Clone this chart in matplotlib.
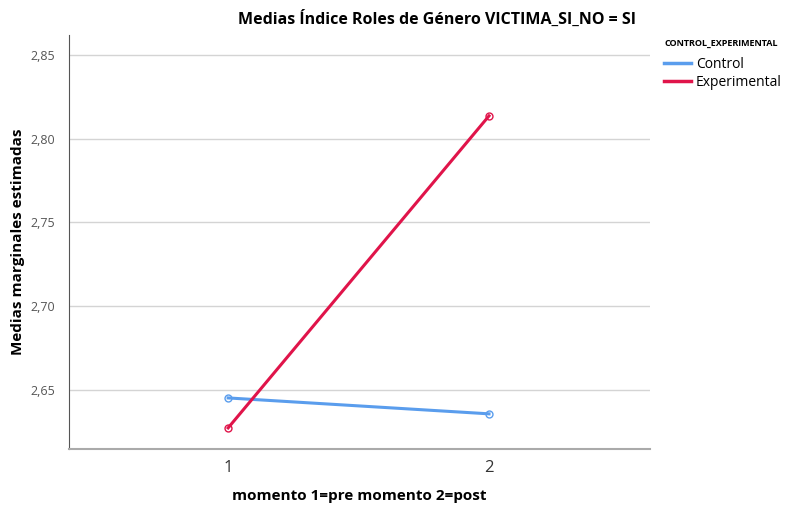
import matplotlib
matplotlib.use('Agg')
import matplotlib.pyplot as plt
from matplotlib.lines import Line2D

plt.rcParams['font.family'] = ['Open Sans', 'DejaVu Sans']

momentos = [1, 2]
control = [2.6452, 2.6357]
experimental = [2.6273, 2.8137]
y_ticks = [2.65, 2.70, 2.75, 2.80, 2.85]
y_labels = ['2,65', '2,70', '2,75', '2,80', '2,85']
c_control = '#5a9ded'
c_exp = '#e0144a'

fig = plt.figure(figsize=(7.92, 5.05), dpi=100)
ax = fig.add_axes([0.0871, 0.1109, 0.7336, 0.8198])

for yt in y_ticks:
    ax.axhline(yt, color='#d4d4d4', lw=1, zorder=0)

ax.plot(momentos, control, color=c_control, lw=2.2, marker='o', ms=5,
        mfc='none', mec=c_control, mew=1)
ax.plot(momentos, experimental, color=c_exp, lw=2.2, marker='o', ms=5,
        mfc='none', mec=c_exp, mew=1)

ax.set_xlim(0.39, 2.617)
ax.set_ylim(2.6147, 2.862)
ax.set_xticks(momentos)
ax.set_xticklabels(['1', '2'], fontsize=12, color='#333333')
ax.set_yticks(y_ticks)
ax.set_yticklabels(y_labels, fontsize=9, color='#555555')
ax.tick_params(length=0, pad=8)
ax.tick_params(axis='y', pad=10)

for s in ['top', 'right']:
    ax.spines[s].set_visible(False)
ax.spines['left'].set_color('#555555')
ax.spines['bottom'].set_color('#aaaaaa')
ax.spines['bottom'].set_linewidth(1.5)

fig.text(0.552, 0.962, 'Medias Índice Roles de Género VICTIMA_SI_NO = SI',
         fontsize=11.5, fontweight='bold', ha='center', va='center')
ax.set_ylabel('Medias marginales estimadas', fontsize=11, fontweight='bold',
              labelpad=4)
ax.set_xlabel('momento 1=pre momento 2=post', fontsize=11, fontweight='bold',
              labelpad=9)

# legend title drawn separately so the gap matches
fig.text(0.8396, 0.913, 'CONTROL_EXPERIMENTAL', fontsize=6.5,
         fontweight='bold', ha='left', va='center')
handles = [Line2D([], [], color=c_control, lw=2.5),
           Line2D([], [], color=c_exp, lw=2.5)]
leg = fig.legend(handles, ['Control', 'Experimental'], loc='upper left',
                 bbox_to_anchor=(0.838, 0.888), frameon=False, fontsize=10,
                 handlelength=2.0, handletextpad=0.3,
                 labelspacing=0.25, borderaxespad=0, borderpad=0)

fig.savefig('out.png', dpi=100)
